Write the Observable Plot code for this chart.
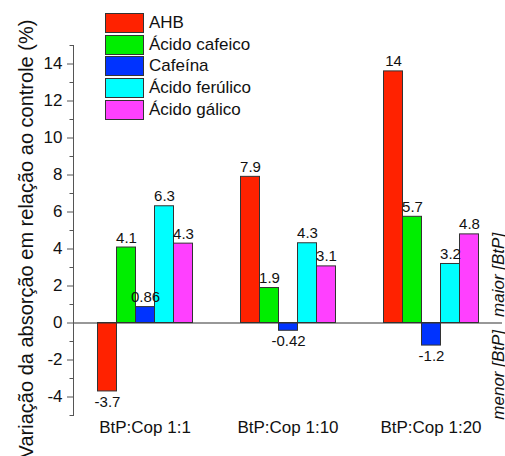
<!DOCTYPE html>
<html>
<head>
<meta charset="utf-8">
<script src="https://cdn.jsdelivr.net/npm/d3@7"></script>
<script src="https://cdn.jsdelivr.net/npm/@observablehq/plot@0.6"></script>
<style>
  body { margin: 0; background: #fff; font-family: "Liberation Sans", Arial, sans-serif; }
  #wrap { position: relative; width: 505px; height: 456px; overflow: hidden; }
  #legend { position: absolute; left: 105px; top: 12px; }
  .item { display: flex; align-items: center; height: 21.7px; }
  .sw { width: 39px; height: 20px; box-sizing: border-box; border: 1px solid #333; }
  .lab { margin-left: 5px; font-size: 17px; color: #111; line-height: 20px; white-space: nowrap; }
</style>
</head>
<body>
<div id="wrap"><div id="chart"></div><div id="legend"></div></div>
<script>
const groups = ["BtP:Cop 1:1", "BtP:Cop 1:10", "BtP:Cop 1:20"];
const series = ["AHB", "Ácido cafeico", "Cafeína", "Ácido ferúlico", "Ácido gálico"];
const colors = ["#ff2200", "#00ee00", "#0033ff", "#00ffff", "#ff40ff"];
const AHB = [-3.7, 7.9, 13.6];
const acidoCafeico = [4.08, 1.89, 5.74];
const cafeina = [0.86, -0.42, -1.22];
const acidoFerulico = [6.31, 4.31, 3.19];
const acidoGalico = [4.29, 3.06, 4.79];
const yMajorTicks = [-4, -2, 0, 2, 4, 6, 8, 10, 12, 14];
const yMinorTicks = [-5, -3, -1, 1, 3, 5, 7, 9, 11, 13, 15];
const yTitle = "Variação da absorção em relação ao controle (%)";
const sideLabels = ["maior [BtP]", "menor [BtP]"];
const sideY = [2.6, -2.8];

const valuesBySeries = [AHB, acidoCafeico, cafeina, acidoFerulico, acidoGalico];
const data = groups.flatMap((g, i) => series.map((s, j) => ({group: g, series: s, value: valuesBySeries[j][i]})));
const fmt = d3.formatLocale({decimal: ".", thousands: ",", grouping: [3], currency: ["", ""], minus: "-"}).format(".2r");

const chart = Plot.plot({
  width: 505,
  height: 456,
  marginLeft: 72.5,
  marginRight: 2,
  marginTop: 45,
  marginBottom: 41,
  style: {fontFamily: "'Liberation Sans', Arial, sans-serif", fontSize: "17px", color: "#111", background: "transparent"},
  fx: {domain: groups, paddingInner: 0, paddingOuter: 0, label: null},
  x: {domain: series, paddingInner: 0, paddingOuter: 1.0875, axis: null},
  y: {domain: [-5, 15], axis: null},
  color: {domain: series, range: colors},
  marks: [
    Plot.barY(data, {fx: "group", x: "series", y: "value", fill: "series", stroke: "#333", strokeWidth: 1}),
    Plot.ruleY([0], {stroke: "#333", strokeWidth: 1.2}),
    Plot.frame({anchor: "left", facetAnchor: "left", stroke: "#555"}),
    Plot.axisY(yMinorTicks, {anchor: "left", tickSize: 3.5, text: null, label: null, stroke: "#555"}),
    Plot.axisY(yMajorTicks, {anchor: "left", tickSize: 6, tickPadding: 5, tickFormat: d => String(d), label: null, fontSize: 17, stroke: "#555"}),
    Plot.axisFx({anchor: "bottom", tickSize: 0, tickPadding: 5.5, fontSize: 17, label: null}),
    Plot.text(data.filter(d => d.value >= 0), {fx: "group", x: "series", y: "value", text: d => fmt(d.value), lineAnchor: "bottom", dy: -5, fontSize: 15, fill: "#111"}),
    Plot.text(data.filter(d => d.value < 0), {fx: "group", x: "series", y: "value", text: d => fmt(d.value), lineAnchor: "top", dy: 5, fontSize: 15, fill: "#111"}),
    Plot.text([yTitle], {facetAnchor: "left", frameAnchor: "left", textAnchor: "middle", rotate: -90, dx: -47, dy: 8.5, fontSize: 20, lineAnchor: "middle", fill: "#111"}),
    Plot.text(sideLabels, {facetAnchor: "right", y: sideY, text: d => d, frameAnchor: "right", textAnchor: "middle", rotate: -90, dx: -4.4, fontSize: 17, fontStyle: "italic", lineAnchor: "middle", fill: "#111"})
  ]
});
document.getElementById("chart").appendChild(chart);

const legend = document.getElementById("legend");
series.forEach((s, i) => {
  const item = document.createElement("div");
  item.className = "item";
  const sw = document.createElement("div");
  sw.className = "sw";
  sw.style.background = colors[i];
  const lab = document.createElement("span");
  lab.className = "lab";
  lab.textContent = s;
  item.appendChild(sw);
  item.appendChild(lab);
  legend.appendChild(item);
});
</script>
</body>
</html>
